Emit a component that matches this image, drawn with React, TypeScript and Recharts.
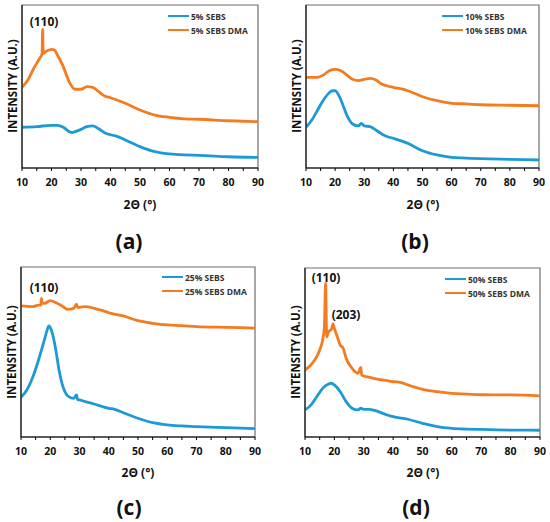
import React from 'react'
import { LineChart, Line, XAxis, YAxis, ReferenceArea } from 'recharts'

// 2θ ticks (labels only on the tens)
const xTicks = [10, 15, 20, 25, 30, 35, 40, 45, 50, 55, 60, 65, 70, 75, 80, 85, 90]

// intensity readings [2θ, a.u.]
const sebs5: [number, number][] = [
  [10, 25.0], [15, 25.4], [20, 26.2], [22, 26.2], [24, 25.0], [26, 22.3], [27, 21.7], [28, 22.3],
  [30, 23.7], [32, 25.4], [34, 25.8], [36, 24.1], [38, 21.7], [40, 20.4], [42, 19.6], [45, 17.2],
  [50, 13.1], [55, 10.0], [60, 8.6], [65, 8.0], [70, 7.8], [80, 6.9], [90, 6.5],
]
const sebs5Dma: [number, number][] = [
  [10, 49.5], [12, 54.0], [14, 61.2], [16, 67.3], [16.8, 70.0], [17, 85.1], [17.2, 70.3], [18, 71.4],
  [20, 72.8], [21, 72.4], [22, 69.3], [24, 62.2], [26, 52.9], [28, 48.3], [30, 48.3], [32, 49.9],
  [34, 49.5], [36, 46.8], [38, 44.2], [40, 43.1], [45, 39.7], [50, 35.6], [55, 32.5], [60, 31.1],
  [65, 30.2], [70, 29.9], [80, 29.0], [90, 28.4],
]
const sebs10: [number, number][] = [
  [10, 25.0], [12, 29.4], [14, 35.6], [16, 41.7], [18, 46.2], [19, 47.4], [20, 47.4], [21, 45.4],
  [22, 41.7], [24, 32.5], [26, 27.0], [28, 25.8], [29, 27.4], [30, 25.8], [32, 25.4], [34, 23.3],
  [36, 20.9], [38, 19.2], [40, 18.2], [45, 15.1], [50, 10.6], [55, 8.0], [60, 6.5], [65, 6.1],
  [70, 5.7], [80, 5.3], [90, 4.9],
]
const sebs10Dma: [number, number][] = [
  [10, 55.6], [14, 55.6], [16, 57.1], [18, 59.7], [20, 60.5], [22, 59.7], [24, 57.1], [26, 54.4],
  [28, 53.6], [30, 54.4], [32, 55.0], [34, 54.0], [36, 51.5], [38, 50.3], [40, 49.5], [45, 47.4],
  [50, 43.7], [55, 41.3], [60, 39.7], [65, 39.3], [70, 38.8], [80, 38.5], [90, 38.2],
]
const sebs25: [number, number][] = [
  [10, 23.3], [12, 27.6], [14, 35.1], [16, 45.3], [18, 57.1], [19, 63.3], [19.5, 65.3], [20, 64.5],
  [21, 59.0], [22, 50.2], [23, 39.4], [24, 31.6], [25, 26.7], [26, 24.1], [28, 22.7], [29, 24.7],
  [29.3, 22.2], [30, 21.8], [32, 20.8], [35, 19.4], [38, 17.8], [40, 16.9], [42, 16.3], [45, 14.3],
  [50, 11.0], [55, 8.4], [60, 7.1], [65, 6.5], [70, 6.1], [80, 5.5], [90, 4.9],
]
const sebs25Dma: [number, number][] = [
  [10, 77.1], [14, 76.7], [16, 77.6], [16.8, 77.6], [17, 81.6], [17.3, 78.6], [18, 78.6], [20, 80.2],
  [22, 79.0], [24, 77.1], [26, 75.1], [28, 75.7], [29, 78.2], [29.3, 76.3], [30, 76.3], [32, 76.7],
  [35, 75.7], [38, 74.3], [40, 73.1], [45, 71.2], [50, 68.4], [55, 66.9], [60, 65.9], [65, 65.5],
  [70, 64.9], [80, 64.5], [90, 64.1],
]
const sebs50: [number, number][] = [
  [10, 16.0], [12, 18.9], [14, 23.8], [16, 28.8], [18, 31.4], [19, 31.8], [20, 30.8], [22, 26.8],
  [24, 20.9], [26, 17.0], [28, 16.0], [29, 17.0], [30, 16.4], [32, 16.4], [35, 15.0], [38, 13.0],
  [40, 12.0], [45, 10.5], [50, 8.1], [55, 6.1], [60, 5.1], [65, 4.7], [70, 4.5], [80, 4.1], [90, 4.0],
]
const sebs50Dma: [number, number][] = [
  [10, 39.6], [12, 42.6], [14, 47.5], [15, 51.5], [16, 57.4], [16.6, 65.3], [17, 91.1], [17.4, 59.3],
  [18, 62.3], [19, 63.7], [19.5, 66.9], [20, 64.3], [21, 59.3], [22, 54.4], [23, 52.5], [24, 46.6],
  [26, 40.7], [28, 37.7], [29, 41.2], [29.3, 36.7], [30, 36.1], [32, 35.3], [35, 34.1], [38, 33.3],
  [40, 32.7], [42, 32.5], [45, 30.8], [50, 28.2], [55, 26.8], [60, 25.8], [65, 25.4], [70, 25.0],
  [80, 24.9], [90, 24.3],
]

const BLUE = '#1d9ad6'
const ORANGE = '#f47b20'
const FONT = '"Open Sans", sans-serif'

const toPts = (arr: [number, number][]) => arr.map(([t, v]) => ({ t, v }))

const Tick = (props: any) => {
  const { x, y, payload } = props
  if (payload.value % 10 !== 0) return <g />
  return (
    <text x={x} y={y} dy="0.71em" textAnchor="middle" fontFamily={FONT} fontWeight={700} fontSize={10.5} fill="#111">
      {payload.value}
    </text>
  )
}

interface PanelProps {
  left: number
  top: number
  width: number
  height: number
  margin: { top: number; right: number; bottom: number; left: number }
  blue: [number, number][]
  orange: [number, number][]
}

function Panel({ left, top, width, height, margin, blue, orange }: PanelProps) {
  return (
    <div style={{ position: 'absolute', left, top }}>
      <LineChart width={width} height={height} margin={margin}>
        <XAxis
          dataKey="t"
          type="number"
          domain={[10, 90]}
          ticks={xTicks}
          tick={<Tick />}
          tickSize={3}
          tickMargin={8}
          height={20}
          interval={0}
          axisLine={{ stroke: '#000', strokeWidth: 1 }}
          tickLine={{ stroke: '#000' }}
          allowDataOverflow
        />
        <YAxis type="number" domain={[0, 100]} tick={false} tickLine={false} width={1} axisLine={{ stroke: '#000' }} />
        <ReferenceArea x1={10} x2={90} y1={0} y2={100} fill="none" stroke="#6e6e6e" strokeWidth={1.2} ifOverflow="visible" />
        <Line data={toPts(blue)} dataKey="v" type="monotone" stroke={BLUE} strokeWidth={2.8} dot={false} isAnimationActive={false} />
        <Line data={toPts(orange)} dataKey="v" type="monotone" stroke={ORANGE} strokeWidth={2.8} dot={false} isAnimationActive={false} />
      </LineChart>
    </div>
  )
}

const txt = (style: React.CSSProperties): React.CSSProperties => ({
  position: 'absolute',
  fontFamily: FONT,
  fontWeight: 700,
  whiteSpace: 'nowrap',
  lineHeight: 1,
  color: '#111',
  ...style,
})

function Legend({ left, top, labels }: { left: number; top: number; labels: string[] }) {
  return (
    <div style={{ position: 'absolute', left, top }}>
      {labels.map((label, i) => (
        <div key={label} style={{ position: 'absolute', left: 0, top: i * 14, display: 'flex', alignItems: 'center', height: 10 }}>
          <div style={{ width: 21, height: 2.5, background: i === 0 ? BLUE : ORANGE }} />
          <span style={{ marginLeft: 2, fontFamily: FONT, fontWeight: 700, fontSize: 8.5, color: '#333', whiteSpace: 'nowrap' }}>{label}</span>
        </div>
      ))}
    </div>
  )
}

function YLabel({ cx, cy }: { cx: number; cy: number }) {
  return (
    <div style={txt({ left: cx, top: cy, fontSize: 11.5, transform: 'translate(-50%, -50%) rotate(-90deg)' })}>
      INTENSITY (A.U.)
    </div>
  )
}

function Center({ cx, cy, size, children }: { cx: number; cy: number; size: number; children: React.ReactNode }) {
  return <div style={txt({ left: cx, top: cy, fontSize: size, transform: 'translate(-50%, -50%)' })}>{children}</div>
}

export default function App() {
  return (
    <div style={{ position: 'absolute', left: 0, top: 0, width: 550, height: 522, background: '#fff', overflow: 'hidden' }}>
      <Panel left={0} top={0} width={275} height={195} margin={{ top: 5, right: 17, bottom: 7, left: 21 }} blue={sebs5} orange={sebs5Dma} />
      <Panel left={275} top={0} width={275} height={195} margin={{ top: 5, right: 11, bottom: 7, left: 30 }} blue={sebs10} orange={sebs10Dma} />
      <Panel left={0} top={262} width={275} height={200} margin={{ top: 5, right: 20, bottom: 5, left: 20 }} blue={sebs25} orange={sebs25Dma} />
      <Panel left={275} top={262} width={275} height={200} margin={{ top: 6, right: 10, bottom: 5, left: 29 }} blue={sebs50} orange={sebs50Dma} />

      <Legend left={168} top={11} labels={['5% SEBS', '5% SEBS DMA']} />
      <Legend left={442} top={11} labels={['10% SEBS', '10% SEBS DMA']} />
      <Legend left={162} top={272} labels={['25% SEBS', '25% SEBS DMA']} />
      <Legend left={445} top={274} labels={['50% SEBS', '50% SEBS DMA']} />

      <YLabel cx={13} cy={86} />
      <YLabel cx={297} cy={86} />
      <YLabel cx={12} cy={352} />
      <YLabel cx={296} cy={352} />

      <Center cx={44} cy={22} size={12}>(110)</Center>
      <Center cx={44} cy={288} size={12}>(110)</Center>
      <Center cx={326} cy={278} size={12}>(110)</Center>
      <Center cx={346} cy={315} size={12}>(203)</Center>

      <Center cx={140} cy={205} size={12}>2Θ (°)</Center>
      <Center cx={423} cy={205} size={12}>2Θ (°)</Center>
      <Center cx={138} cy={473} size={12}>2Θ (°)</Center>
      <Center cx={423} cy={473} size={12}>2Θ (°)</Center>

      <Center cx={129} cy={241} size={21}>(a)</Center>
      <Center cx={415} cy={241} size={21}>(b)</Center>
      <Center cx={129} cy={507} size={21}>(c)</Center>
      <Center cx={416} cy={507} size={21}>(d)</Center>
    </div>
  )
}
